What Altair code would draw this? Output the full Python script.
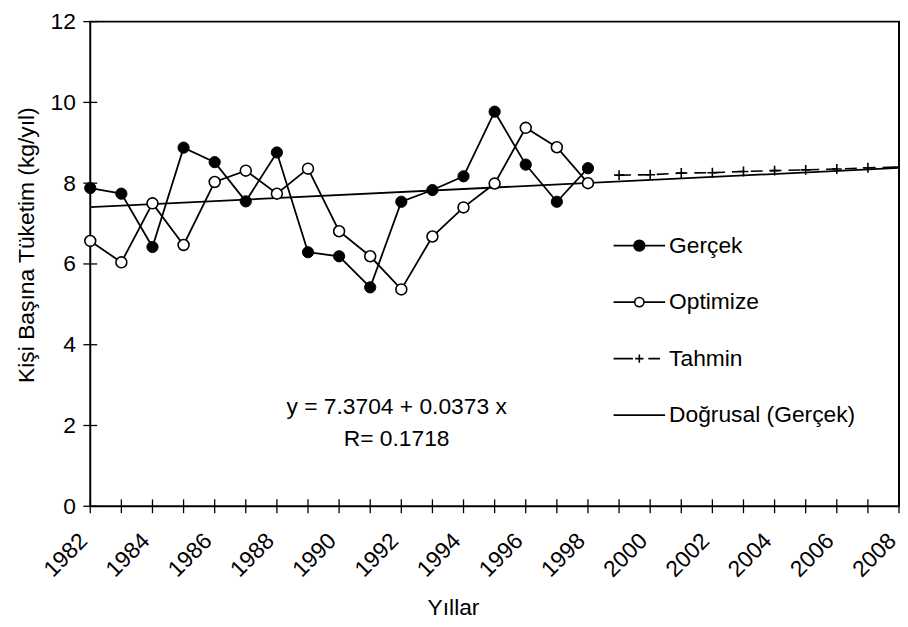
import altair as alt
import pandas as pd

# ---- data ----
years = [1982, 1983, 1984, 1985, 1986, 1987, 1988, 1989, 1990, 1991,
         1992, 1993, 1994, 1995, 1996, 1997, 1998]
gercek = [7.88, 7.74, 6.42, 8.88, 8.52, 7.55, 8.76, 6.29, 6.19, 5.42,
          7.54, 7.83, 8.17, 9.77, 8.46, 7.54, 8.37]
optimize = [6.57, 6.04, 7.50, 6.47, 8.03, 8.31, 7.74, 8.36, 6.81, 6.19,
            5.37, 6.68, 7.40, 7.99, 9.37, 8.89, 8.00]
tahmin_years = [1999, 2000, 2001, 2002, 2003, 2004, 2005, 2006, 2007, 2008]
tahmin = [8.20, 8.21, 8.25, 8.26, 8.29, 8.31, 8.33, 8.35, 8.38, 8.40]
trend_years = [1982, 2008]
trend = [7.4077, 8.3775]  # y = 7.3704 + 0.0373 x, x = 1 .. 27

x_label_years = [1982, 1984, 1986, 1988, 1990, 1992, 1994, 1996, 1998,
                 2000, 2002, 2004, 2006, 2008]
x_tick_years = [1982, 1983, 1984, 1985, 1986, 1987, 1988, 1989, 1990,
                1991, 1992, 1993, 1994, 1995, 1996, 1997, 1998, 1999,
                2000, 2001, 2002, 2003, 2004, 2005, 2006, 2007, 2008]
y_ticks = [0, 2, 4, 6, 8, 10, 12]

ann_text = ["y = 7.3704 + 0.0373 x", "R= 0.1718"]
ann_x = [1991.85, 1991.85]
ann_y = [2.45, 1.67]

legend_names = ["Gerçek", "Optimize", "Tahmin", "Doğrusal (Gerçek)"]
legend_fills = ["black", "white", "black", "black"]
legend_strokes = ["black", "black", "black", "black"]
legend_paths = [
    "M-1,0L1,0M0.21,0A0.21,0.21,0,1,1,-0.21,0A0.21,0.21,0,1,1,0.21,0Z",
    "M-1,0L-0.18,0M0.18,0L1,0M0.18,0A0.18,0.18,0,1,1,-0.18,0A0.18,0.18,0,1,1,0.18,0Z",
    "M-1,0L-0.25,0M-0.16,0L0.16,0M0,-0.16L0,0.16M0.35,0L0.8,0",
    "M-1,0L1,0",
]
PLUS = "M-1,0L1,0M0,-1L0,1"

FONT = "Liberation Sans"
FS = 23

x_scale = alt.Scale(domain=[1982, 2008], nice=False, zero=False)
y_scale = alt.Scale(domain=[0, 12], nice=False)

x_axis = alt.Axis(values=x_label_years, format="d", labelAngle=315,
                  labelAlign="right", labelBaseline="middle", labelPadding=31,
                  labelOffset=-7,
                  labelFontSize=FS, labelFlush=False, labelOverlap=False,
                  title="Yıllar", titleFontSize=FS, titleFontWeight="normal",
                  titleX=366, titleY=102, titleAlign="center",
                  titleBaseline="middle", domain=False, ticks=False,
                  tickSize=0, grid=False, labelColor="black",
                  titleColor="black")
y_axis = alt.Axis(values=y_ticks, labelFontSize=FS, labelPadding=15,
                  labelFlush=False,
                  title="Kişi Başına Tüketim (kg/yıl)", titleFontSize=FS,
                  titleFontWeight="normal", titleX=-64, titleY=225,
                  titleAngle=270, titleAlign="center", titleBaseline="middle",
                  domain=False, ticks=False, tickSize=0, grid=False,
                  labelColor="black", titleColor="black")


def X(field):
    return alt.X(field, type="quantitative", scale=x_scale, axis=x_axis)


def Y(field):
    return alt.Y(field, type="quantitative", scale=y_scale, axis=y_axis)


df_g = pd.DataFrame({"year": years, "v": gercek})
df_o = pd.DataFrame({"year": years, "v": optimize})
df_t = pd.DataFrame({"year": tahmin_years, "v": tahmin})
df_tr = pd.DataFrame({"year": trend_years, "v": trend})
df_xt = pd.DataFrame({"year": x_tick_years, "v": [0] * len(x_tick_years)})
df_yt = pd.DataFrame({"year": [1982] * len(y_ticks), "v": y_ticks})
df_ann = pd.DataFrame({"year": ann_x, "v": ann_y, "t": ann_text})
df_leg = pd.DataFrame({"series": legend_names})

trend_line = alt.Chart(df_tr).mark_line(color="black", strokeWidth=1.8).encode(
    x=X("year"), y=Y("v"))

tahmin_line = alt.Chart(df_t).mark_line(
    color="black", strokeWidth=1.6, strokeDash=[12, 7]).encode(x=X("year"), y=Y("v"))
tahmin_pts = alt.Chart(df_t).mark_point(
    shape=PLUS, size=100, stroke="black", strokeWidth=1.6, filled=False,
    opacity=1).encode(x=X("year"), y=Y("v"))

opt_line = alt.Chart(df_o).mark_line(color="black", strokeWidth=1.8).encode(
    x=X("year"), y=Y("v"))
opt_pts = alt.Chart(df_o).mark_point(
    shape="circle", size=121, filled=True, fill="white", stroke="black",
    strokeWidth=1.6, opacity=1).encode(x=X("year"), y=Y("v"))

g_line = alt.Chart(df_g).mark_line(color="black", strokeWidth=1.8).encode(
    x=X("year"), y=Y("v"))
g_pts = alt.Chart(df_g).mark_point(
    shape="circle", size=128, filled=True, fill="black", stroke="black",
    strokeWidth=1, opacity=1).encode(x=X("year"), y=Y("v"))

x_ticks = alt.Chart(df_xt).mark_tick(
    orient="vertical", size=14, thickness=1.3, color="black", opacity=1).encode(
    x=X("year"), y=Y("v"))
y_ticks_m = alt.Chart(df_yt).mark_tick(
    orient="horizontal", size=14, thickness=1.3, color="black", opacity=1).encode(
    x=X("year"), y=Y("v"))

ann = alt.Chart(df_ann).mark_text(
    fontSize=FS, font=FONT, color="black", align="center",
    baseline="middle").encode(x=X("year"), y=Y("v"), text="t:N")

leg = alt.Legend(title=None, orient="none", legendX=527, legendY=199,
                 symbolSize=2704, symbolStrokeWidth=1.6, symbolOpacity=1,
                 labelFontSize=FS, labelFont=FONT,
                 labelColor="black", labelOffset=3, rowPadding=18, padding=0,
                 offset=0, labelLimit=400)
legend_layer = alt.Chart(df_leg).mark_point(filled=True, opacity=0).encode(
    shape=alt.Shape("series:N", scale=alt.Scale(domain=legend_names, range=legend_paths),
                    legend=leg),
    fill=alt.Fill("series:N", scale=alt.Scale(domain=legend_names, range=legend_fills),
                  legend=leg),
    stroke=alt.Stroke("series:N", scale=alt.Scale(domain=legend_names, range=legend_strokes),
                      legend=leg),
)

chart = alt.layer(
    trend_line, tahmin_line, tahmin_pts, opt_line, opt_pts, g_line, g_pts,
    x_ticks, y_ticks_m, ann, legend_layer,
).properties(
    width=816, height=489,
    autosize=alt.AutoSizeParams(type="none"),
    padding={"left": 83, "top": 11, "right": 1, "bottom": 112},
).configure(font=FONT).configure_view(stroke="black", strokeWidth=2)

chart.save("out.html", embed_options={"renderer": "svg", "actions": False})
